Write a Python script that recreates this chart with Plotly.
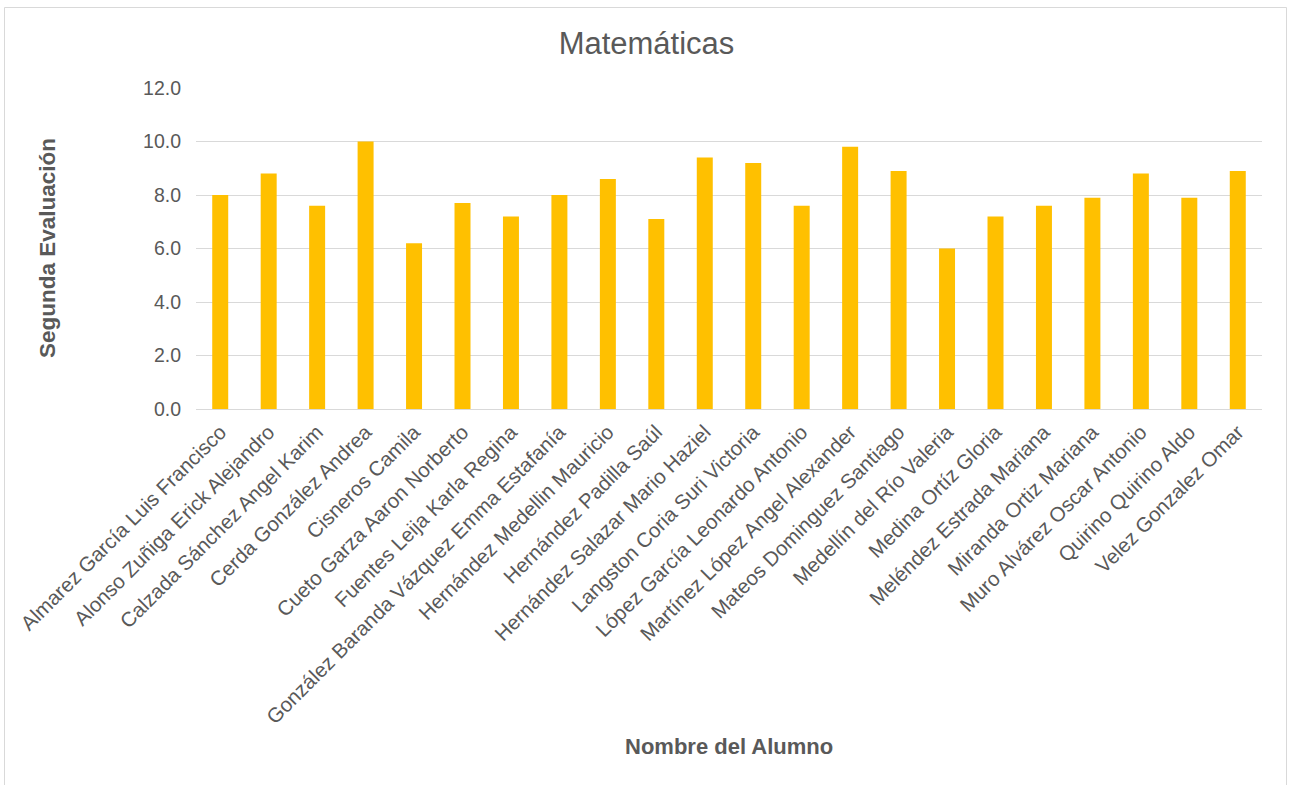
import plotly.graph_objects as go

alumnos = [
    "Almarez García Luis Francisco",
    "Alonso Zuñiga Erick Alejandro",
    "Calzada Sánchez Angel Karim",
    "Cerda González Andrea",
    "Cisneros Camila",
    "Cueto Garza Aaron Norberto",
    "Fuentes Leija Karla Regina",
    "González Baranda Vázquez Emma Estafanía",
    "Hernández Medellin Mauricio",
    "Hernández Padilla Saúl",
    "Hernández Salazar Mario Haziel",
    "Langston Coria Suri Victoria",
    "López García Leonardo Antonio",
    "Martínez López Angel Alexander",
    "Mateos Dominguez Santiago",
    "Medellín del Río Valeria",
    "Medina Ortíz Gloria",
    "Meléndez Estrada Mariana",
    "Miranda Ortiz Mariana",
    "Muro Alvárez Oscar Antonio",
    "Quirino Quirino Aldo",
    "Velez Gonzalez Omar",
]
calificaciones = [8.0, 8.8, 7.6, 10.0, 6.2, 7.7, 7.2, 8.0, 8.6, 7.1, 9.4,
                  9.2, 7.6, 9.8, 8.9, 6.0, 7.2, 7.6, 7.9, 8.8, 7.9, 8.9]
y_ticks = [0, 2, 4, 6, 8, 10, 12]

FONT = "Arial, Liberation Sans, sans-serif"
GRAY = "#595959"

fig = go.Figure(go.Bar(x=alumnos, y=calificaciones, marker=dict(color="#FFC000", line=dict(width=0))))

W, H = 1293, 785
L, R, T, B = 196, 31, 88, 376
pw, ph = W - L - R, H - T - B

def px(x):
    return (x - L) / pw

def py(y):
    return (H - B - y) / ph

fig.update_layout(
    width=W, height=H,
    margin=dict(l=L, r=R, t=T, b=B, autoexpand=False),
    paper_bgcolor="white", plot_bgcolor="white",
    bargap=0.67,
    showlegend=False,
    font=dict(family=FONT, color=GRAY),
    title=dict(text="Matemáticas", x=0.5, xanchor="center", y=1 - 43 / H, yanchor="middle",
               font=dict(family=FONT, size=31, color=GRAY)),
    xaxis=dict(tickangle=-45, tickfont=dict(family=FONT, size=20.5, color=GRAY),
               showgrid=False, showline=True, linecolor="#d9d9d9", linewidth=1,
               ticks="", ticklabelstandoff=2, automargin=False),
    yaxis=dict(range=[0, 12], tickvals=y_ticks, tickformat=".1f",
               tickfont=dict(family=FONT, size=19.5, color=GRAY),
               showgrid=True, gridcolor="#d9d9d9", gridwidth=1, zeroline=False,
               showline=False, ticks="", ticklabelstandoff=14, automargin=False),
    annotations=[
        dict(text="<b>Nombre del Alumno</b>", xref="paper", yref="paper",
             x=px(729), y=py(746), xanchor="center", yanchor="middle", showarrow=False,
             font=dict(family=FONT, size=22, color=GRAY)),
        dict(text="<b>Segunda Evaluación</b>", xref="paper", yref="paper",
             x=px(47), y=py(248), xanchor="center", yanchor="middle", showarrow=False,
             textangle=-90, font=dict(family=FONT, size=22.5, color=GRAY)),
    ],
    shapes=[
        dict(type="rect", xref="paper", yref="paper",
             x0=px(4.5), x1=px(1286.5), y0=py(786), y1=py(7.5),
             line=dict(color="#d9d9d9", width=1), fillcolor="rgba(0,0,0,0)", layer="below"),
    ],
)

fig.write_html("out.html")
